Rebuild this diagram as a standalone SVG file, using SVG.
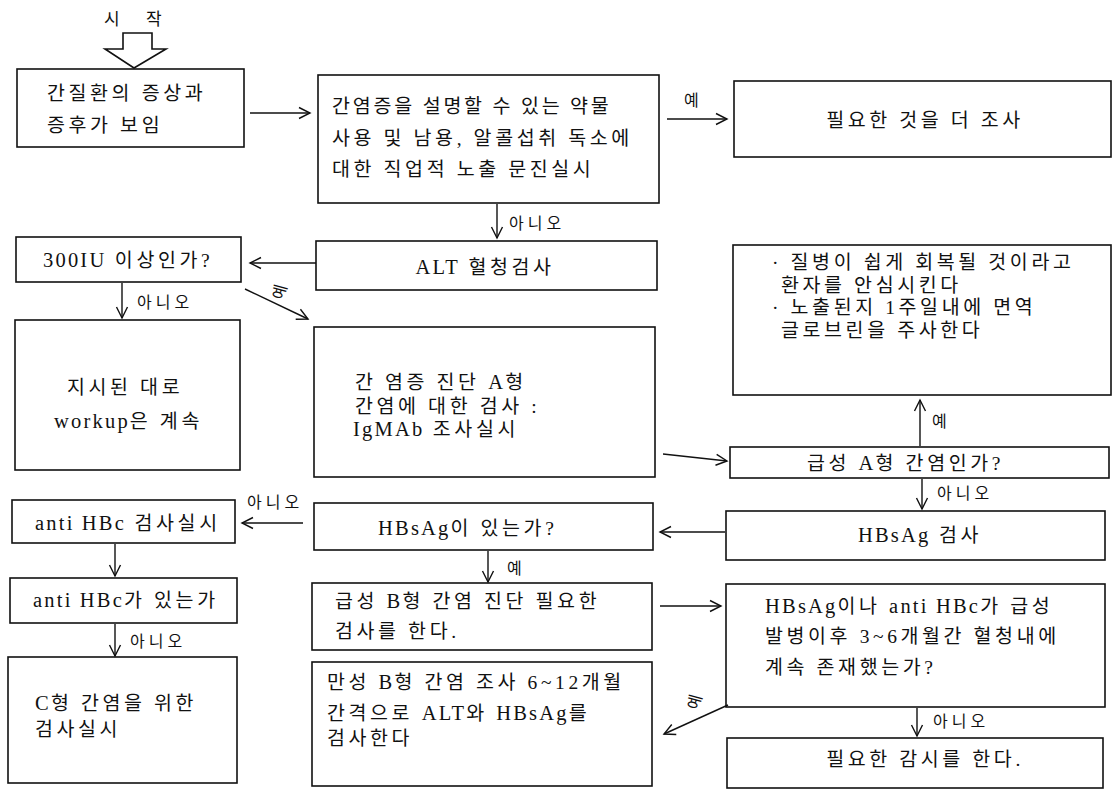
<svg xmlns="http://www.w3.org/2000/svg" width="1115" height="794" viewBox="0 0 1115 794">
<style>
.box{fill:#fff;stroke:#111;stroke-width:1.6}
.t{font-family:"Liberation Serif","Noto Sans CJK KR",serif;font-size:19.5px;letter-spacing:3.6px;fill:#111}
.e{font-size:20.5px;letter-spacing:2.2px}
.c{text-anchor:middle}
.lb{font-family:"Liberation Serif","Noto Sans CJK KR",serif;font-size:16px;letter-spacing:4px;fill:#111}
.ln{stroke:#111;stroke-width:1.4;fill:none;marker-end:url(#ah)}
</style>
<defs>
<marker id="ah" markerUnits="userSpaceOnUse" markerWidth="14" markerHeight="14" refX="12" refY="7" orient="auto">
<path d="M1,1.5 L12,7 L1,12.5" fill="none" stroke="#111" stroke-width="1.4"/>
</marker>
</defs>
<rect width="1115" height="794" fill="#fff"/>

<g id="start">
<text class="t" x="104" y="25" style="font-size:17px;letter-spacing:11px">시 작</text>
<polygon points="123,33 152,33 152,49 166,49 134,68 105,49 123,49" fill="#fff" stroke="#111" stroke-width="1.6"/>
</g>

<g id="n1">
<rect class="box" x="17" y="69" width="227" height="78"/>
<text class="t" x="47" y="100">간질환의 증상과</text>
<text class="t" x="47" y="132">증후가 보임</text>
</g>

<g id="n2">
<rect class="box" x="318" y="75" width="341" height="128"/>
<text class="t" x="332" y="113" style="letter-spacing:2.8px">간염증을 설명할 수 있는 약물</text>
<text class="t" x="332" y="145">사용 및 남용, 알콜섭취 독소에</text>
<text class="t" x="332" y="176">대한 직업적 노출 문진실시</text>
</g>

<g id="n3">
<rect class="box" x="734" y="81" width="377" height="76"/>
<text class="t c" x="925" y="127">필요한 것을 더 조사</text>
</g>

<g id="n4">
<rect class="box" x="16" y="237" width="225" height="45"/>
<text class="t" x="43" y="267"><tspan class="e">300IU</tspan> 이상인가?</text>
</g>

<g id="n5">
<rect class="box" x="316" y="241" width="341" height="49"/>
<text class="t c" x="485" y="274"><tspan class="e">ALT</tspan> 혈청검사</text>
</g>

<g id="n6">
<rect class="box" x="733" y="245" width="378" height="150"/>
<text class="t" x="772" y="269">· 질병이 쉽게 회복될 것이라고</text>
<text class="t" x="781" y="292">환자를 안심시킨다</text>
<text class="t" x="772" y="314">· 노출된지 1주일내에 면역</text>
<text class="t" x="781" y="337">글로브린을 주사한다</text>
</g>

<g id="n7">
<rect class="box" x="15" y="320" width="225" height="150"/>
<text class="t" x="67" y="394">지시된 대로</text>
<text class="t" x="54" y="428"><tspan class="e">workup</tspan>은 계속</text>
</g>

<g id="n8">
<rect class="box" x="314" y="327" width="341" height="150"/>
<text class="t" x="355" y="389">간 염증 진단 <tspan class="e">A</tspan>형</text>
<text class="t" x="355" y="413">간염에 대한 검사 :</text>
<text class="t" x="353" y="436"><tspan class="e">IgMAb</tspan> 조사실시</text>
</g>

<g id="n9">
<rect class="box" x="730" y="447" width="379" height="31"/>
<text class="t" x="807" y="470">급성 <tspan class="e">A</tspan>형 간염인가?</text>
</g>

<g id="n10">
<rect class="box" x="12" y="500" width="223" height="43"/>
<text class="t" x="35" y="530"><tspan class="e">anti HBc</tspan> 검사실시</text>
</g>

<g id="n11">
<rect class="box" x="314" y="503" width="339" height="47"/>
<text class="t" x="378" y="535"><tspan class="e">HBsAg</tspan>이 있는가?</text>
</g>

<g id="n12">
<rect class="box" x="726" y="511" width="379" height="49"/>
<text class="t c" x="920" y="542"><tspan class="e">HBsAg</tspan> 검사</text>
</g>

<g id="n13">
<rect class="box" x="10" y="578" width="227" height="45"/>
<text class="t" x="33" y="607"><tspan class="e">anti HBc</tspan>가 있는가</text>
</g>

<g id="n14">
<rect class="box" x="312" y="583" width="340" height="67"/>
<text class="t" x="335" y="608">급성 <tspan class="e">B</tspan>형 간염 진단 필요한</text>
<text class="t" x="335" y="638">검사를 한다.</text>
</g>

<g id="n15">
<rect class="box" x="726" y="584" width="379" height="123"/>
<text class="t" x="765" y="613"><tspan class="e">HBsAg</tspan>이나 <tspan class="e">anti HBc</tspan>가 급성</text>
<text class="t" x="765" y="643">발병이후 3~6개월간 혈청내에</text>
<text class="t" x="765" y="674">계속 존재했는가?</text>
</g>

<g id="n16">
<rect class="box" x="8" y="657" width="229" height="126"/>
<text class="t" x="35" y="710"><tspan class="e">C</tspan>형 간염을 위한</text>
<text class="t" x="35" y="736">검사실시</text>
</g>

<g id="n17">
<rect class="box" x="312" y="662" width="340" height="124"/>
<text class="t" x="327" y="689">만성 <tspan class="e">B</tspan>형 간염 조사 6~12개월</text>
<text class="t" x="327" y="720">간격으로 <tspan class="e">ALT</tspan>와 <tspan class="e">HBsAg</tspan>를</text>
<text class="t" x="327" y="745">검사한다</text>
</g>

<g id="n18">
<rect class="box" x="727" y="738" width="376" height="50"/>
<text class="t c" x="925" y="766">필요한 감시를 한다.</text>
</g>

<g id="connectors">
<line class="ln" x1="250" y1="113" x2="310" y2="113"/>
<line class="ln" x1="667" y1="119" x2="727" y2="119"/>
<text class="lb" x="684" y="106">예</text>
<line class="ln" x1="497" y1="204" x2="497" y2="238"/>
<text class="lb" x="509" y="229">아니오</text>
<line class="ln" x1="316" y1="263" x2="250" y2="263"/>
<line class="ln" x1="122" y1="283" x2="122" y2="318"/>
<text class="lb" x="137" y="308">아니오</text>
<line class="ln" x1="245" y1="289" x2="308" y2="319"/>
<text class="lb c" transform="rotate(-75 280 290)" x="280" y="296">예</text>
<line class="ln" x1="663" y1="454" x2="727" y2="461"/>
<line class="ln" x1="920" y1="446" x2="920" y2="400"/>
<text class="lb" x="932" y="427">예</text>
<line class="ln" x1="922" y1="479" x2="922" y2="509"/>
<text class="lb" x="937" y="499">아니오</text>
<line class="ln" x1="725" y1="532" x2="660" y2="532"/>
<line class="ln" x1="303" y1="523" x2="242" y2="523"/>
<text class="lb" x="247" y="508">아니오</text>
<line class="ln" x1="115" y1="544" x2="115" y2="576"/>
<line class="ln" x1="115" y1="624" x2="115" y2="656"/>
<text class="lb" x="130" y="647">아니오</text>
<line class="ln" x1="488" y1="551" x2="488" y2="582"/>
<text class="lb" x="507" y="574">예</text>
<line class="ln" x1="660" y1="606" x2="721" y2="606"/>
<line class="ln" x1="728" y1="705" x2="664" y2="734"/>
<text class="lb c" transform="rotate(-75 695 700)" x="695" y="706">예</text>
<line class="ln" x1="917" y1="708" x2="917" y2="736"/>
<text class="lb" x="933" y="727">아니오</text>
</g>
</svg>
